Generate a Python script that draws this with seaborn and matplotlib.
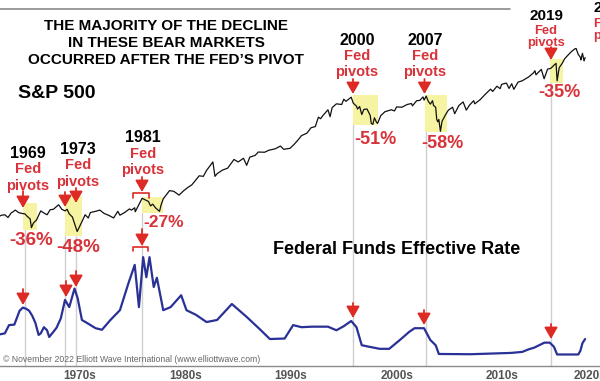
"""
S&P 500 vs. Federal Funds Effective Rate, with the Fed pivots marked.
"""

import matplotlib
matplotlib.use("Agg")
import matplotlib.pyplot as plt
import matplotlib.transforms as mtransforms
from matplotlib.patches import Rectangle
import pandas as pd
import seaborn as sns

# S&P 500 index level (log scale)
sp_year = [
    1967.4, 1967.6, 1967.9, 1968.2, 1968.5, 1968.9, 1969.2, 1969.5, 1969.8,
    1970.0, 1970.3, 1970.42, 1970.6, 1970.9, 1971.3, 1971.6, 1971.9, 1972.2,
    1972.5, 1972.9, 1973.0, 1973.3, 1973.6, 1973.8, 1974.0, 1974.3, 1974.6,
    1974.75, 1974.9, 1975.3, 1975.5, 1975.8, 1976.0, 1976.5, 1976.9, 1977.3,
    1977.8, 1978.2, 1978.6, 1978.8, 1979.3, 1979.7, 1979.9, 1980.2, 1980.25,
    1980.5, 1980.9, 1981.3, 1981.5, 1981.7, 1981.9, 1982.2, 1982.55, 1982.7,
    1982.9, 1983.5, 1983.9, 1984.4, 1984.8, 1985.2, 1985.6, 1985.9, 1986.3,
    1986.7, 1987.0, 1987.6, 1987.8, 1988.0, 1988.5, 1989.0, 1989.6, 1990.0,
    1990.5, 1990.8, 1991.1, 1991.6, 1991.9, 1992.5, 1992.9, 1993.5, 1994.0,
    1994.3, 1994.9, 1995.3, 1995.7, 1996.0, 1996.5, 1996.9, 1997.3, 1997.6,
    1997.8, 1998.0, 1998.5, 1998.7, 1998.9, 1999.3, 1999.8, 2000.0, 2000.2,
    2000.7, 2000.9, 2001.2, 2001.3, 2001.5, 2001.7, 2001.9, 2002.2, 2002.5,
    2002.6, 2002.75, 2002.9, 2003.1, 2003.2, 2003.5, 2003.9, 2004.5, 2004.8,
    2005.0, 2005.5, 2006.0, 2006.4, 2006.5, 2006.9, 2007.2, 2007.5, 2007.6,
    2007.8, 2008.0, 2008.2, 2008.4, 2008.5, 2008.7, 2008.8, 2008.9, 2009.0,
    2009.15, 2009.3, 2009.6, 2009.9, 2010.3, 2010.5, 2010.9, 2011.3, 2011.6,
    2011.9, 2012.3, 2012.4, 2012.9, 2013.4, 2013.9, 2014.1, 2014.5, 2014.8,
    2014.95, 2015.4, 2015.65, 2015.9, 2016.1, 2016.5, 2016.9, 2017.5, 2017.95,
    2018.1, 2018.2, 2018.7, 2018.97, 2019.3, 2019.6, 2019.9, 2020.1, 2020.2,
    2020.4, 2020.7, 2020.9, 2021.3, 2021.6, 2021.9, 2022.0, 2022.2, 2022.4,
    2022.45, 2022.6, 2022.75, 2022.85,
]
sp_value = [
    92, 94, 95, 89, 99, 106, 100, 98, 97,
    92, 86, 70, 78, 84, 104, 99, 95, 107,
    108, 118, 120, 108, 104, 108, 97, 90, 72,
    64, 69, 85, 95, 88, 100, 103, 106, 98,
    93, 88, 103, 94, 101, 109, 106, 112, 102,
    115, 140, 133, 130, 117, 122, 111, 103, 120,
    138, 168, 165, 151, 166, 180, 192, 210, 238,
    235, 270, 330, 235, 250, 272, 285, 350, 330,
    360, 305, 370, 385, 417, 415, 435, 450, 480,
    445, 455, 500, 560, 615, 650, 740, 760, 950,
    915, 980, 1130, 960, 1190, 1300, 1280, 1450, 1380,
    1520, 1320, 1230, 1150, 1220, 1010, 1140, 1150, 990,
    820, 800, 935, 840, 820, 985, 1080, 1130, 1100,
    1210, 1200, 1280, 1310, 1240, 1400, 1410, 1530, 1420,
    1560, 1380, 1290, 1400, 1250, 1200, 900, 850, 900,
    680, 860, 990, 1120, 1200, 1030, 1250, 1360, 1120,
    1260, 1400, 1300, 1430, 1630, 1840, 1740, 1970, 1860,
    2060, 2120, 1870, 2090, 1830, 2170, 2240, 2450, 2690,
    2840, 2580, 2930, 2350, 2950, 3000, 3230, 3380, 2240,
    3050, 3400, 3750, 4180, 4500, 4770, 4800, 4170, 3900,
    3660, 4280, 3580, 3870,
]

# Federal funds effective rate, %
ff_year = [
    1967.4, 1967.9, 1968.3, 1968.8, 1969.3, 1969.6, 1969.9, 1970.2, 1970.5,
    1970.8, 1971.1, 1971.3, 1971.6, 1971.9, 1972.1, 1972.5, 1972.8, 1973.2,
    1973.6, 1973.8, 1974.0, 1974.5, 1974.8, 1975.2, 1975.7, 1976.5, 1977.1,
    1977.9, 1978.8, 1979.6, 1980.2, 1980.6, 1981.0, 1981.3, 1981.6, 1982.0,
    1982.3, 1982.9, 1983.6, 1984.6, 1985.1, 1986.0, 1987.0, 1988.0, 1989.4,
    1990.8, 1992.1, 1993.0, 1994.4, 1995.2, 1996.0, 1997.0, 1998.5, 1999.3,
    2000.0, 2000.7, 2001.2, 2001.7, 2002.4, 2003.4, 2004.3, 2005.3, 2006.2,
    2006.7, 2007.6, 2008.2, 2008.7, 2009.0, 2012.0, 2015.8, 2016.9, 2017.5,
    2018.0, 2018.5, 2019.0, 2019.5, 2019.7, 2019.9, 2020.2, 2022.2, 2022.4,
    2022.6, 2022.85,
]
ff_rate = [
    4.0, 4.2, 5.8, 5.9, 8.6, 9.2, 9.0, 8.6, 7.6,
    6.2, 3.9, 4.2, 5.4, 4.8, 3.5, 4.5, 5.3, 7.1,
    10.7, 10.0, 9.3, 12.9, 11.0, 6.8, 6.2, 5.2, 4.9,
    6.8, 8.7, 13.9, 17.5, 9.3, 19.0, 15.1, 19.0, 13.2,
    15.0, 8.7, 9.3, 11.6, 8.7, 7.8, 6.4, 6.8, 9.9,
    7.4, 4.9, 3.1, 3.2, 5.8, 5.4, 5.5, 5.5, 4.8,
    5.6, 6.6, 5.4, 1.9, 1.6, 1.2, 1.2, 2.9, 4.5,
    5.2, 5.2, 2.9, 1.9, 0.2, 0.15, 0.4, 0.6, 1.1,
    1.4, 1.9, 2.4, 2.4, 2.0, 1.6, 0.1, 0.1, 0.8,
    2.3, 3.1,
]

pivot_labels = ["1969", "1973", "1981", "2000", "2007", "2019"]
decline_labels = ["-36%", "-48%", "-27%", "-51%", "-58%", "-35%"]
decade_ticks = [1970, 1980, 1990, 2000, 2010, 2020]
decade_label_pos = [1975, 1985, 1995, 2005, 2015, 2023.3]
decade_labels = ["1970s", "1980s", "1990s", "2000s", "2010s", "2020s"]

RED = "#d8333a"
ARROW_RED = "#dd2a25"
BLUE = "#2a3196"
YELLOW = "#f6f4a2"
GRID_GRAY = "#cfcfcf"
W, H = 600, 381


def yr(px):
    """Horizontal pixel -> year."""
    return 1970 + (px - 27) / 10.56


def fy(py):
    """Vertical pixel (from top) -> figure fraction."""
    return 1 - py / H


sns.set_style("white")
plt.rcParams["font.family"] = ["Liberation Sans", "DejaVu Sans"]

fig = plt.figure(figsize=(W / 100, H / 100), dpi=100)
ax = fig.add_axes([0, 15 / H, 1, 366 / H])
ax2 = ax.twinx()

sp = pd.DataFrame({"year": sp_year, "value": sp_value})
ff = pd.DataFrame({"year": ff_year, "rate": ff_rate})

sns.lineplot(data=sp, x="year", y="value", ax=ax, color="#111111",
             lw=0.9, estimator=None, zorder=3)
sns.lineplot(data=ff, x="year", y="rate", ax=ax2, color=BLUE,
             lw=1.6, estimator=None, zorder=3)

ax.set_yscale("log")
ax.set_ylim(2.68, 15057)
ax2.set_ylim(-2.136, 68.93)
ax.set_xlim(yr(0), yr(W))

for a in (ax, ax2):
    a.set_xlabel("")
    a.set_ylabel("")
    a.set_yticks([])
    a.yaxis.set_minor_locator(matplotlib.ticker.NullLocator())
    for s in ("top", "left", "right"):
        a.spines[s].set_visible(False)
ax2.spines["bottom"].set_visible(False)
ax.spines["bottom"].set_color("#8a8a8a")
ax.spines["bottom"].set_linewidth(1.0)

ax.set_xticks(decade_ticks, labels=[""] * len(decade_ticks))
ax.set_xticks(decade_label_pos, labels=decade_labels, minor=True)
ax.tick_params(axis="x", which="major", direction="inout", length=6,
               width=1, color="#8a8a8a")
ax.tick_params(axis="x", which="minor", length=0, pad=3, labelsize=8.5,
               labelcolor="#555555")
for lab in ax.get_xticklabels(minor=True):
    lab.set_fontweight("bold")

bt = mtransforms.blended_transform_factory(ax.transData, fig.transFigure)

# yellow decline boxes: (x0, x1, top, bottom) in pixels
boxes = [(23, 37, 203, 230), (65, 82, 196, 236), (142, 163, 197, 213),
         (353, 378, 95, 125), (425, 447, 95, 132), (550, 563, 59, 83)]
for x0, x1, t, b in boxes:
    ax.add_patch(Rectangle((yr(x0), fy(b)), yr(x1) - yr(x0), fy(t) - fy(b),
                           transform=bt, color=YELLOW, lw=0, zorder=1))

# gray pivot lines down to the axis
vlines = [(25, 230), (65, 236), (76, 236), (142, 213), (352.5, 125),
          (425.5, 132), (551, 83)]
for x, top in vlines:
    ax.plot([yr(x), yr(x)], [fy(top), fy(366)], transform=bt,
            color=GRID_GRAY, lw=1, zorder=0, clip_on=False)


def arrow(x, tail, tip):
    ax.annotate("", xy=(yr(x), fy(tip)), xytext=(yr(x), fy(tail)),
                xycoords=bt, textcoords=bt,
                arrowprops=dict(arrowstyle="-|>,head_width=0.4,head_length=0.7",
                                color=ARROW_RED, lw=1.3, shrinkA=0, shrinkB=0,
                                mutation_scale=10), zorder=5)


def bracket(x0, x1, top, bot):
    ax.plot([yr(x0), yr(x0), yr(x1), yr(x1)], [fy(bot), fy(top), fy(top), fy(bot)],
            transform=bt, color=ARROW_RED, lw=1.2, zorder=5, clip_on=False)


# arrows on the S&P line
for x, tail, tip in [(23, 191, 208), (65, 192, 207), (76, 188, 203),
                     (142, 177, 192), (353, 79, 94), (424.5, 79, 94),
                     (551, 47, 60)]:
    arrow(x, tail, tip)
bracket(133, 149, 193, 198)

# arrows on the rate line
for x, tail, tip in [(23, 289, 305), (66, 281, 297), (76, 271, 287),
                     (142, 229, 246), (353, 303, 318), (424, 310, 325),
                     (551, 324, 339)]:
    arrow(x, tail, tip)
bracket(133, 148, 247, 251)


def label(x, y, s, color="black", size=11.5, ha="center", weight="bold"):
    ax.text(yr(x), fy(y), s, transform=bt, ha=ha, va="baseline",
            color=color, fontsize=size, fontweight=weight, zorder=6,
            clip_on=False)


# title block
label(166, 30, "THE MAJORITY OF THE DECLINE", size=11)
label(166, 47, "IN THESE BEAR MARKETS", size=11)
label(166, 64, "OCCURRED AFTER THE FED\u2019S PIVOT", size=11)
ax.plot([yr(0), yr(510)], [fy(9), fy(9)], transform=bt, color="#8a8a8a",
        lw=1.2, clip_on=False)
label(18, 98, "S&P 500", size=14, ha="left")

# pivot year / "Fed pivots" labels:
# (x centre, year baseline, Fed baseline, pivots baseline, year size, red size)
pivot_pos = [(28, 158, 173, 190, 11.5, 10.5), (78, 154, 169, 186, 11.5, 10.5),
             (143, 142, 158, 174, 11.5, 10.5), (357, 45, 60, 76, 11.5, 10.5),
             (425, 45, 60, 76, 11.5, 10.5), (546, 20, 34, 46, 11, 9.3)]
for (x, b_year, b_fed, b_piv, size, red_size), year in zip(pivot_pos, pivot_labels):
    label(x, b_year, year, size=size)
    label(x, b_fed, "Fed", color=RED, size=red_size)
    label(x, b_piv, "pivots", color=RED, size=red_size)

# cut-off label at the right edge
label(593, 12, "2022", size=11, ha="left")
label(593, 27, "Fed", color=RED, size=9.3, ha="left")
label(593, 39, "pivots?", color=RED, size=9.3, ha="left")

# declines
decline_pos = [(31, 245, 13.5), (78, 252, 13.5), (164, 227, 12.5),
               (375, 144, 13), (442, 148, 13), (559, 97, 13)]
for (x, base, size), s in zip(decline_pos, decline_labels):
    label(x, base, s, color=RED, size=size)

label(397, 254, "Federal Funds Effective Rate", size=13)
label(3, 362, "\u00a9 November 2022 Elliott Wave International (www.elliottwave.com)",
      color="#666666", size=6.2, ha="left", weight="normal")

fig.savefig("out.png", dpi=100, facecolor="white")
